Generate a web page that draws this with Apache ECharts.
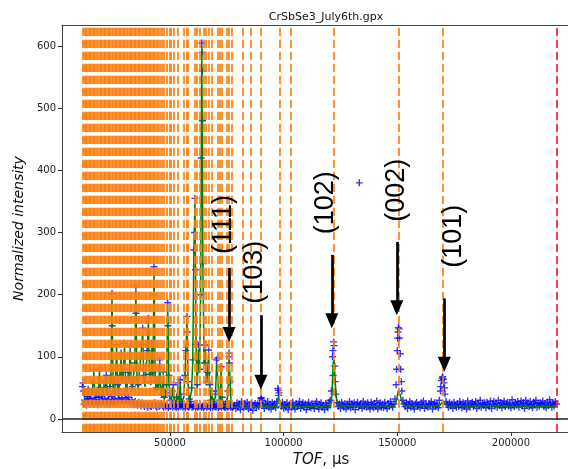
<!DOCTYPE html>
<html><head><meta charset="utf-8">
<script src="https://cdn.jsdelivr.net/npm/echarts@6/dist/echarts.min.js"></script>
<style>html,body{margin:0;padding:0;background:#fff}#c{width:568px;height:469px}</style>
</head><body><div id="c"></div>
<script>
const chartTitle = 'CrSbSe3_July6th.gpx';
const xTicks = [50000, 100000, 150000, 200000];
const yTicks = [0, 100, 200, 300, 400, 500, 600];
const xRange = [2500, 230400];
const yRange = [-21, 634];

// observed intensities, low-TOF region (step 500 from 11500)
const obsDenseStart = 11500;
const obsStep = 500;
const obsDense = [
  52,45,30,41,36,48,33,40,44,58,
  79,42,35,46,38,79,50,37,43,60,
  48,70,45,39,52,66,202,58,44,62,
  119,55,47,70,106,64,80,122,58,49,
  75,68,116,60,52,78,90,214,66,55,
  80,96,120,146,70,58,85,110,162,72,
  60,122,75,245,68,50,62,58,95,48,
  40,76,35,42,55,187,70,38,30,45,
  55,28,25,35,58,32,63,28,24,40,
  70,110,165,60,32,28,50,95,272,355,
  120,55,119,80,200,605,250,90,119,60,
  75,111,55,30,45,28,25,40,95,98,
  45,30,84,35,22,20,24,28,45,106,
  60,22,18,21
];
// second set of observed points (step 500 from 11750)
const obsDenseBStart = 11750;
const obsDenseB = [
  58,24,28,22,30,26,25,33,27,24,
  29,31,26,23,35,28,25,30,27,33,
  29,26,31,28,24,36,30,27,33,29,
  25,38,31,28,34,30,26,40,32,29,
  35,27,24,30,26,23,28,25,22,27,
  24,21,26,23,20,25,22,19,24,21,
  20,23,22,26,21,19,24,20,22,25,
  21,19,23,20,22,18,21,20,23,19,
  22,20,18,21,19,22,20,23,19,21,
  18,22,20,19,21,23,19,20,22,18,
  21,19,20,22,19,21,18,20,22,19,
  21,20,18,22,19,21,20,19,22,18,
  20,21,19,22,20,18,21,19,20,22,
  19,21,20
];
// observed, high-TOF region (step 500 from 78500)
const obsBgStart = 78500;
const obsBg = [
  22,17,26,19,24,15,28,21,18,25,
  20,27,16,23,19,26,14,22,25,18,
  24,20,26,33,30,23,17,25,21,28,
  19,23,16,26,21,24,18,28,49,42,
  25,20,27,17,23,19,26,15,22,24,
  18,27,21,16,25,20,23,28,17,22,
  26,19,24,15,22,27,20,18,25,21,
  17,24,28,20,16,23,26,19,22,15,
  25,21,18,27,30,45,100,124,85,40,
  26,20,24,17,27,22,19,25,16,23,
  21,28,18,24,20,26,15,23,27,19,
  22,25,17,28,20,24,19,26,21,16,
  27,23,18,25,20,29,16,22,26,19,
  24,18,27,21,17,25,20,28,23,19,
  24,32,55,110,147,130,80,45,30,24,
  20,26,17,23,28,19,25,21,16,24,
  27,20,23,18,26,22,29,17,24,21,
  19,25,22,28,16,23,26,20,24,18,
  30,45,62,68,58,40,28,23,19,26,
  21,24,17,27,22,19,25,20,28,23,
  18,26,21,24,16,29,22,19,25,27,
  20,23,28,17,25,21,30,19,24,22,
  26,18,27,23,20,29,17,24,28,21,
  25,19,30,22,26,18,24,29,20,23,
  27,21,25,18,31,23,20,26,22,28,
  19,24,29,21,26,17,30,23,25,20,
  28,22,18,27,24,30,19,25,21,26,
  23,29,20,25,18,27,22,31,24,19,
  26,21,28,24
];
// extra observed points on peak flanks
const obsExtra = [
  [64100,590],[64200,560],[63800,420],[64300,480],[60800,300],[61200,240],
  [24600,150],[35100,170],[43100,200],[49100,150],[57600,140],
  [121700,110],[121800,70],[122200,118],[122700,60],
  [150200,130],[150300,140],[150800,145],[149700,80],[151300,105],[151800,60],
  [169800,66],[170300,64],[169200,52],[170800,50],
  [90200,34],[97700,46],[97800,38],[76100,100],[76200,90],[133300,380]
];
// calculated profile (step 500 from 11500), then tail points
const calcStart = 11500;
const calcDense = [
  40,42,38,40,37,42,38,40,42,50,
  75,40,38,44,39,75,45,38,42,55,
  44,65,42,40,48,60,195,52,42,58,
  115,50,45,65,100,60,75,118,55,46,
  70,62,112,55,48,72,85,208,60,50,
  75,92,115,140,65,52,80,105,158,66,
  55,118,68,240,62,45,56,52,90,42,
  36,70,32,36,50,182,60,32,27,38,
  50,26,24,30,52,28,58,25,23,34,
  65,105,160,55,28,25,45,90,265,350,
  115,50,112,75,195,600,245,85,112,55,
  70,105,50,27,40,25,22,35,90,92,
  40,26,78,30,20,19,21,25,40,100,
  55,20,18,19
];
const calcTail = [
  [78500,19],[89000,19],[89700,21],[90200,24],[90900,20],[97000,20],[97400,30],[97700,36],
  [98100,33],[98800,20],[120700,20],[121300,40],[121800,90],[122200,95],[122700,60],
  [123300,30],[124200,21],[148800,21],[149700,30],[150400,45],[150700,47],[151200,40],
  [152000,28],[153200,21],[168700,21],[169600,26],[170100,28],[170700,26],[171800,21],[220000,20]
];
// reflection positions (TOF)
const reflections = [
  11700,12300,12900,13500,14100,14700,15300,15900,16500,17100,17700,18300,18900,19500,
  20100,20700,21300,21900,22500,23100,23700,24300,24900,25500,26100,26700,27300,27900,
  28500,29100,29700,30300,30900,31500,32100,32700,33300,33900,34500,35100,35700,36300,
  36900,37500,38100,38700,39300,39900,40500,41100,41700,42300,42900,43500,
  44300,44800,45600,46200,47400,48600,49700,50500,51800,53600,56000,57400,58000,60700,
  61800,62900,64700,65600,66900,68300,70900,72000,72800,75000,76000,77100,82000,85400,
  90100,98100,103200,122100,150700,170100
];
const lowerLimit = 12200;
const upperLimit = 220000;
const annotations = [
  {label:'(111)', tof:76000, tail:243, tip:124, textTof:73600, textY:313},
  {label:'(103)', tof:90000, tail:167, tip:47, textTof:87200, textY:236},
  {label:'(102)', tof:121200, tail:264, tip:146, textTof:118400, textY:348},
  {label:'(002)', tof:149800, tail:285, tip:167, textTof:149800, textY:368},
  {label:'(101)', tof:170700, tail:194, tip:76, textTof:174600, textY:294}
];

const grid = {left:62, top:25, width:518, height:407};
const pxPerUnit = grid.height/(yRange[1]-yRange[0]);
const headLen = 15, headW = 13;

const obsPts = [];
obsDense.forEach((v,i)=>obsPts.push([obsDenseStart+i*obsStep, v]));
obsDenseB.forEach((v,i)=>obsPts.push([obsDenseBStart+i*obsStep, v]));
obsBg.forEach((v,i)=>obsPts.push([obsBgStart+i*obsStep, v]));
obsExtra.forEach(p=>obsPts.push(p));
const calcPts = calcDense.map((v,i)=>[calcStart+i*obsStep, v]).concat(calcTail);

const plusPath = 'path://M4,0H6V4H10V6H6V10H4V6H0V4H4Z';
const tickFont = {fontFamily:'DejaVu Sans', fontSize:10, color:'#222', formatter:v=>String(v)};

const chart = echarts.init(document.getElementById('c'), null, {renderer:'canvas'});
chart.setOption({
  animation:false,
  backgroundColor:'#fff',
  title:{text:chartTitle, left:321, top:7, textAlign:'center',
    textStyle:{fontFamily:'DejaVu Sans', fontSize:11, fontWeight:'normal', color:'#111'}},
  grid:{left:grid.left, top:grid.top, width:grid.width, height:grid.height, show:false,
    containLabel:false, outerBoundsMode:'none'},
  xAxis:[{type:'value', min:xRange[0], max:xRange[1], position:'bottom',
    name:'{i|TOF}, µs', nameLocation:'middle', nameGap:18,
    nameTextStyle:{fontFamily:'DejaVu Sans', fontSize:15, color:'#111', verticalAlign:'top',
      rich:{i:{fontFamily:'DejaVu Sans', fontStyle:'italic', fontSize:15, color:'#111'}}},
    axisLine:{show:true, onZero:false, lineStyle:{color:'#444', width:1}}, splitLine:{show:false},
    axisTick:{show:true, length:4, lineStyle:{color:'#333'}, customValues:xTicks},
    axisLabel:Object.assign({customValues:xTicks, margin:6}, tickFont)},
   {type:'value', min:xRange[0], max:xRange[1], position:'top',
    axisLine:{show:true, onZero:false, lineStyle:{color:'#444', width:1}},
    axisTick:{show:false}, axisLabel:{show:false}, splitLine:{show:false}}],
  yAxis:{type:'value', min:yRange[0], max:yRange[1],
    name:'Normalized intensity', nameLocation:'middle', nameGap:36, nameRotate:90,
    nameTextStyle:{fontFamily:'DejaVu Sans', fontStyle:'italic', fontSize:14, color:'#111'},
    axisLine:{show:true, onZero:false, lineStyle:{color:'#444', width:1}}, splitLine:{show:false},
    axisTick:{show:true, length:4, lineStyle:{color:'#333'}, customValues:yTicks},
    axisLabel:Object.assign({customValues:yTicks, margin:6}, tickFont)},
  series:[
    {type:'scatter', data:obsPts, symbol:plusPath, symbolSize:7, z:2, silent:true,
      itemStyle:{color:'#0000ff'}},
    {type:'line', data:calcPts, showSymbol:false, z:3, silent:true,
      lineStyle:{color:'#008000', width:1.5}},
    {type:'line', data:[], silent:true, z:4,
      markLine:{silent:true, symbol:['none','none'], z:4, animation:false,
        label:{show:false},
        lineStyle:{color:'#008000', width:1.5, type:[3,9], dashOffset:9},
        data:[{xAxis:lowerLimit}]}},
    {type:'line', data:[], silent:true, z:5,
      markLine:{silent:true, symbol:['none','none'], z:5, animation:false,
        label:{show:false},
        lineStyle:{color:'#ff7f0e', width:1.7, type:[8.2,3.8], opacity:1},
        data:reflections.map(v=>({xAxis:v}))}},
    {type:'line', data:[], silent:true, z:6,
      markLine:{silent:true, symbol:['none','none'], z:6, animation:false,
        label:{show:false},
        data:[
          {xAxis:upperLimit, lineStyle:{color:'#ff2a2a', width:1.8, type:[8,4]}},
          {yAxis:0, lineStyle:{color:'#222', width:1.6, type:'solid'}}
        ]}},
    {type:'line', data:[], silent:true, z:7,
      markLine:{silent:true, z:7, animation:false, symbol:['none','triangle'],
        symbolSize:[headW, headLen], label:{show:false},
        lineStyle:{color:'#000', width:2.7, type:'solid'},
        itemStyle:{color:'#000'},
        data:annotations.map(a=>[{coord:[a.tof, a.tail]},
          {coord:[a.tof, a.tip + (headLen/2)/pxPerUnit]}])},
      markPoint:{silent:true, z:7, animation:false, symbol:'rect', symbolSize:[1,1],
        itemStyle:{color:'rgba(0,0,0,0)'},
        label:{show:true, position:'inside', rotate:90, fontFamily:'Liberation Sans',
          fontSize:27, color:'#000', formatter:p=>p.name},
        data:annotations.map(a=>({name:a.label, coord:[a.textTof, a.textY]}))}}
  ]
});
</script></body></html>
